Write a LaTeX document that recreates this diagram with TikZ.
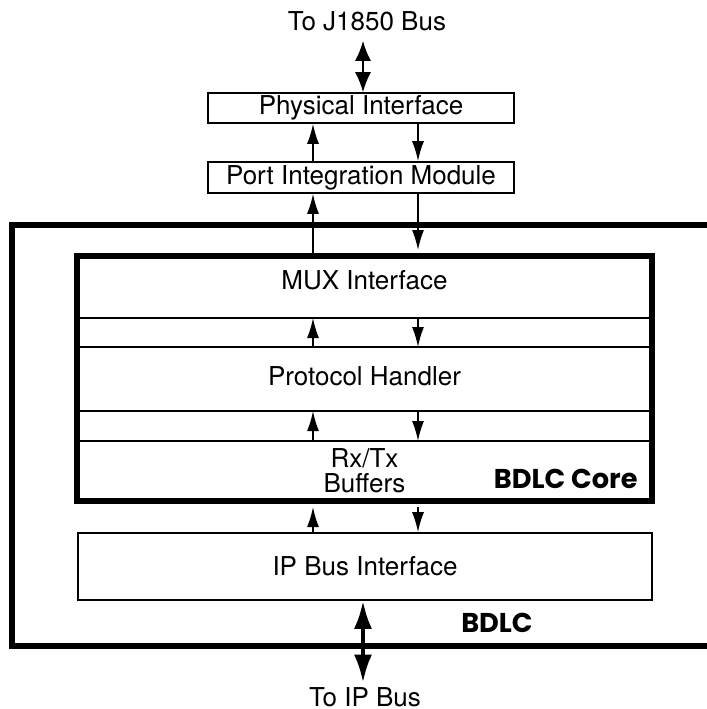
\documentclass[tikz,border=0pt]{standalone}
\usepackage{fontspec}
\setmainfont{TeX Gyre Heros}
\newfontfamily\geofont{Poppins}
\usetikzlibrary{arrows.meta,calc}

\begin{document}
\begin{tikzpicture}[x=.5pt,y=-.5pt,
every node/.style={font=\fontsize{13}{15}\selectfont},
box/.style={draw,line width=.8pt,inner sep=0pt},
lbl/.style={inner sep=0pt},
bold/.style={inner sep=0pt,font=\geofont\bfseries\fontsize{13.6}{15}\selectfont},
arr/.style={line width=.8pt,-{Latex[length=10pt,width=6pt]}}]
\useasboundingbox(0,0)rectangle(707,709);
% lanes of the connectors
\coordinate(bus)at(363,0);\coordinate(up)at(313,0);\coordinate(dn)at(418,0);
\node[lbl,anchor=base](j1850)at(367,30){To J1850 Bus};
\node[box,minimum width=153pt,minimum height=15pt](phys)at(361,108){Physical Interface};
\node[box,minimum width=153pt,minimum height=15.5pt](pim)at(361,177.5){Port Integration Module};
% BDLC, open to the right
\draw[line width=3pt](712,225)-|(11.5,646)--(712,646);
\node[draw,line width=3pt,minimum width=287.5pt,minimum height=122.5pt](core)at(364.5,378.5){};
\foreach \y[count=\i] in {318,347,411,441}{\coordinate(s\i)at(364.5,\y);
\draw[line width=.8pt](core.west|-s\i)--(core.east|-s\i);}
\node[lbl](mux)at(364.5,280){MUX Interface};
\node[lbl](ph)at(364.5,376){Protocol Handler};
\node[lbl,align=center,font=\fontsize{13}{12.6}\selectfont](buf)at(364.5,471){Rx/Tx\\Buffers};
\node[bold,anchor=base east](corelbl)at(638,488){BDLC Core};
\node[box,minimum width=287pt,minimum height=33.5pt](ip)at(365,566.5){IP Bus Interface};
\node[bold,anchor=base](bdlclbl)at(497,632){BDLC};
\node[lbl,anchor=base](ipbus)at(365,706){To IP Bus};
% connectors
\draw[line width=.8pt,{Latex[length=10pt,width=8pt]}-{Latex[length=10pt,width=8pt]},shorten <=5pt](j1850.south-|bus)--(phys.north-|bus);
\draw[arr](pim.north-|up)--(phys.south-|up);\draw[arr](phys.south-|dn)--(pim.north-|dn);
\draw[arr](core.north-|up)--(pim.south-|up);\draw[arr,shorten >=1.5pt](pim.south-|dn)--(core.north-|dn);
\draw[arr](s2-|up)--(s1-|up);\draw[arr](s1-|dn)--(s2-|dn);
\draw[arr](s4-|up)--(s3-|up);\draw[arr](s3-|dn)--(s4-|dn);
\draw[arr,shorten >=1.5pt](ip.north-|up)--(core.south-|up);\draw[arr,shorten <=1.5pt](core.south-|dn)--(ip.north-|dn);
\draw[line width=2pt,{Latex[length=14pt,width=9pt]}-{Latex[length=14pt,width=9pt]},shorten >=2pt](ip.south-|bus)--(ipbus.north-|bus);
\end{tikzpicture}
\end{document}
